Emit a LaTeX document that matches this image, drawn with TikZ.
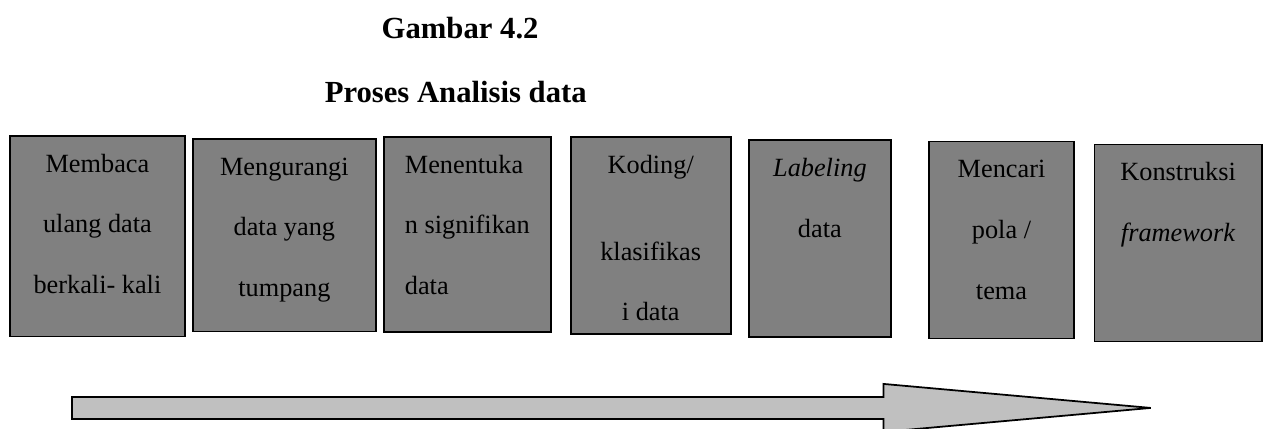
\documentclass[tikz,border=0pt]{standalone}
\usepackage{fontspec}
\setmainfont{Liberation Serif}
\usetikzlibrary{positioning}
\definecolor{boxgray}{RGB}{128,128,128}
\definecolor{arrowgray}{RGB}{192,192,192}
\tikzset{
	stage/.style={draw=black, line width=0.8pt, fill=boxgray, inner sep=0pt, anchor=north west, font=\fontsize{12}{27.7}\selectfont},
	heading/.style={anchor=base, font=\fontsize{14}{16}\selectfont\bfseries},
	flow/.style={draw=black, line width=0.8pt, fill=arrowgray},
}
% text of a stage, set from the top of its box
\newcommand{\stagetext}[4][\centering]{\parbox[t][#3][t]{#2}{#1\rule{0pt}{0.58cm}#4}}

\begin{document}
\begin{tikzpicture}
		\useasboundingbox (0,0) rectangle (20.37,-6.88);
		
		\node(T1) [heading] at (7.38,-0.61)         {Gambar 4.2};
		\node(T2) [heading] at (7.31,-1.64)         {Proses Analisis data};
		
		\node(S1) [stage] at (0.144,-2.165)         {\stagetext{2.81cm}{3.22cm}{Membaca\\ulang data\\berkali- kali}};
		\node(S2) [stage, below right=0.05cm and 0.10cm of S1.north east]  {\stagetext{2.93cm}{3.09cm}{Mengurangi\\data yang\\tumpang}};
		\node(S3) [stage, below right=-0.03cm and 0.10cm of S2.north east] {\stagetext[\raggedright\leftskip=0.34cm]{2.68cm}{3.13cm}{Menentuka\\n signifikan\\data}};
		\node(S4) [stage, below right=0cm and 0.29cm of S3.north east]     {\stagetext{2.57cm}{3.16cm}{Koding/\\[0.42cm]klasifikas\\i data}};
		\node(S5) [stage, below right=0.05cm and 0.26cm of S4.north east]  {\stagetext{2.28cm}{3.16cm}{\textit{Labeling}\\data}};
		\node(S6) [stage, below right=0.02cm and 0.58cm of S5.north east]  {\stagetext{2.33cm}{3.16cm}{Mencari\\pola /\\tema}};
		\node(S7) [stage, below right=0.05cm and 0.30cm of S6.north east]  {\stagetext{2.68cm}{3.16cm}{Konstruksi\\\textit{framework}}};
		
		% big arrow under the stages
		\draw[flow] (1.155,-6.366) -- (14.17,-6.366) -- (14.17,-6.158) -- (18.457,-6.543)
			-- (14.17,-6.928) -- (14.17,-6.719) -- (1.155,-6.719) -- cycle;
		
	\end{tikzpicture}
\end{document}
